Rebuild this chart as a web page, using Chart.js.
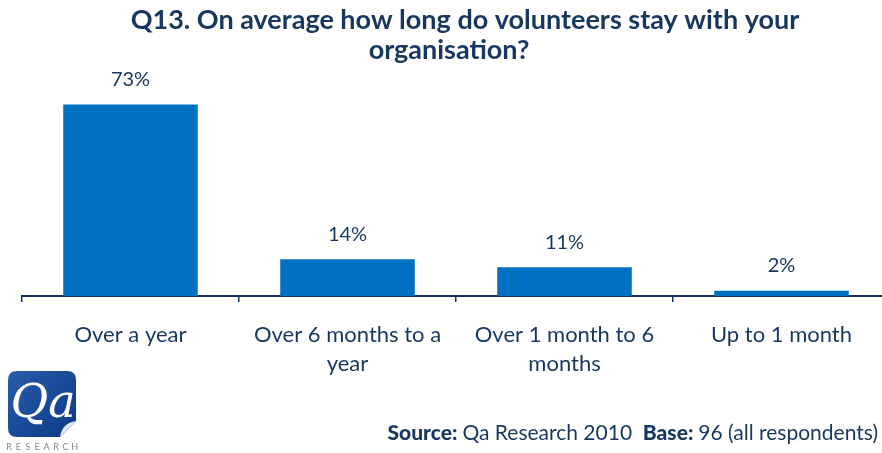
<!DOCTYPE html>
<html>
<head>
<meta charset="utf-8">
<script src="https://cdn.jsdelivr.net/npm/chart.js@4/dist/chart.umd.min.js"></script>
<style>
  html, body { margin: 0; padding: 0; background: #fff; overflow: hidden; }
  #wrap { position: relative; width: 900px; height: 453px; }
</style>
</head>
<body>
<div id="wrap"><canvas id="c" width="900" height="453"></canvas></div>
<script>
// Survey answers for Q13
const categories = [
  ["Over a year"],
  ["Over 6 months to a", "year"],
  ["Over 1 month to 6", "months"],
  ["Up to 1 month"]
];
const shares = [73, 14, 11, 2];

const titleLines = [
  "Q13. On average how long do volunteers stay with your",
  "organisation?"
];

const NAVY = "#17375E";
const BAR = "#0070C0";
const FONT = "Lato, 'Open Sans', sans-serif";

// Value labels above each bar, title, source note and logo
const decorations = {
  id: "decorations",
  afterDatasetsDraw(chart) {
    const ctx = chart.ctx;
    const meta = chart.getDatasetMeta(0);
    ctx.save();
    ctx.fillStyle = NAVY;
    ctx.font = "20px " + FONT;
    ctx.textAlign = "center";
    ctx.textBaseline = "middle";
    meta.data.forEach((bar, i) => {
      ctx.fillText(shares[i] + "%", bar.x, bar.y - 25);
    });
    ctx.restore();
  },
  afterDraw(chart) {
    const ctx = chart.ctx;
    ctx.save();
    // title
    ctx.fillStyle = NAVY;
    ctx.font = "bold 27px " + FONT;
    ctx.textAlign = "center";
    ctx.textBaseline = "middle";
    ctx.fillText(titleLines[0], 465, 20);
    ctx.fillText(titleLines[1], 449, 50);

    // source note, right aligned
    ctx.textBaseline = "alphabetic";
    ctx.textAlign = "left";
    const parts = [
      ["900", "Source: "], ["normal", "Qa Research 2010  "],
      ["900", "Base: "], ["normal", "96 (all respondents)"]
    ];
    let total = 0;
    parts.forEach(p => { ctx.font = p[0] + " 21px " + FONT; total += ctx.measureText(p[1]).width; });
    let x = 878 - total;
    parts.forEach(p => {
      ctx.font = p[0] + " 21px " + FONT;
      ctx.fillText(p[1], x, 440);
      x += ctx.measureText(p[1]).width;
    });

    // logo
    const lx = 8, ly = 371, lw = 68, lh = 66, r = 9;
    const g = ctx.createLinearGradient(lx, ly, lx + lw, ly + lh);
    g.addColorStop(0, "#2a5cab");
    g.addColorStop(1, "#0b3a86");
    ctx.fillStyle = g;
    ctx.beginPath();
    ctx.moveTo(lx + r, ly);
    ctx.lineTo(lx + lw - r, ly);
    ctx.quadraticCurveTo(lx + lw, ly, lx + lw, ly + r);
    ctx.lineTo(lx + lw, ly + lh - 16);
    ctx.lineTo(lx + lw - 16, ly + lh);
    ctx.lineTo(lx + r, ly + lh);
    ctx.quadraticCurveTo(lx, ly + lh, lx, ly + lh - r);
    ctx.lineTo(lx, ly + r);
    ctx.quadraticCurveTo(lx, ly, lx + r, ly);
    ctx.fill();
    // page curl
    ctx.fillStyle = "#dfe6f0";
    ctx.beginPath();
    ctx.moveTo(lx + lw, ly + lh - 16);
    ctx.quadraticCurveTo(lx + lw - 14, ly + lh - 14, lx + lw - 16, ly + lh);
    ctx.closePath();
    ctx.fill();
    ctx.fillStyle = "#ffffff";
    ctx.font = "italic 46px 'DejaVu Serif', 'Liberation Serif', serif";
    ctx.textAlign = "center";
    ctx.fillText("Qa", lx + lw / 2 + 1, ly + 46);
    ctx.fillStyle = "#8a8a8a";
    ctx.font = "9px " + FONT;
    const letters = "RESEARCH".split("");
    letters.forEach((ch, i) => ctx.fillText(ch, 9 + i * 9.4, 450));
    ctx.restore();
  }
};

new Chart(document.getElementById("c"), {
  type: "bar",
  data: {
    labels: categories,
    datasets: [{
      data: shares,
      backgroundColor: BAR,
      borderWidth: 0,
      barPercentage: 0.62,
      categoryPercentage: 1.0
    }]
  },
  options: {
    responsive: false,
    animation: false,
    layout: { padding: { left: 22, right: 10, top: 86, bottom: 0 } },
    plugins: { legend: { display: false }, tooltip: { enabled: false }, title: { display: false } },
    scales: {
      x: {
        afterFit(scale) { scale.height = 157; },
        border: { display: true, color: "#14305C", width: 2 },
        grid: { offset: true, drawOnChartArea: false, drawTicks: true, tickLength: 6, color: "#14305C", lineWidth: 1.5 },
        ticks: { color: NAVY, font: { family: FONT, size: 22, lineHeight: 1.3 }, padding: 19, maxRotation: 0, autoSkip: false }
      },
      y: {
        display: false,
        min: 0,
        max: 80
      }
    }
  },
  plugins: [decorations]
});
</script>
</body>
</html>
